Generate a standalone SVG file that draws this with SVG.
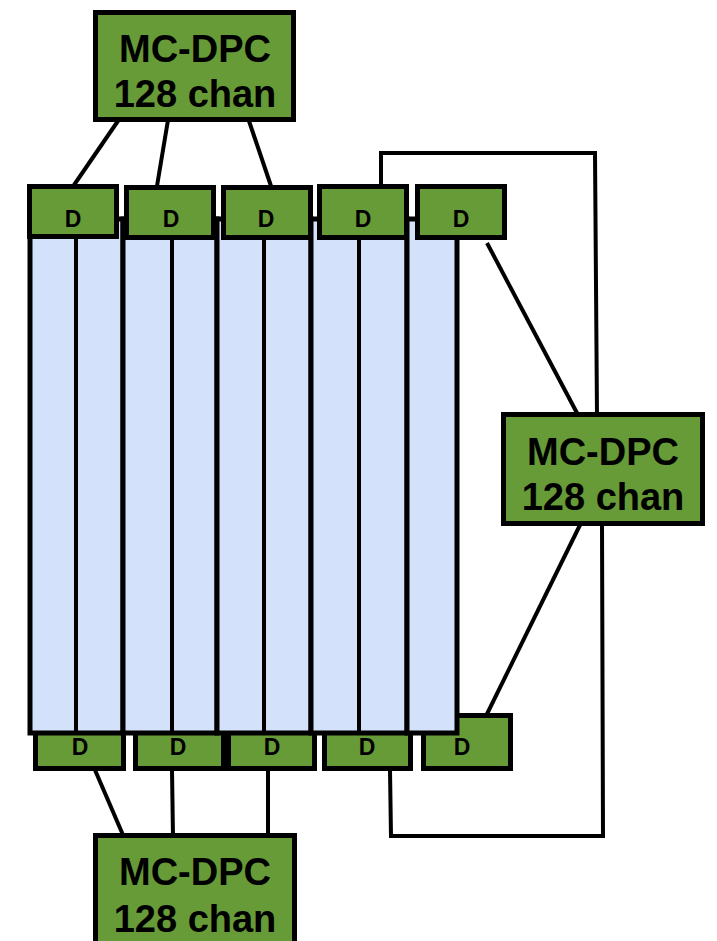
<svg xmlns="http://www.w3.org/2000/svg" width="717" height="941" viewBox="0 0 717 941">
<style>
.box{fill:#679B37;stroke:#000;stroke-width:5}
.col{fill:#D4E1FA;stroke:#000;stroke-width:5}
.div{stroke:#000;stroke-width:4}
.conn{fill:none;stroke:#000;stroke-width:4}
.big{font-family:"Liberation Sans",Arial,sans-serif;font-weight:bold;font-size:38px;text-anchor:middle;fill:#000}
.d{font-family:"Liberation Sans",Arial,sans-serif;font-weight:bold;font-size:23px;text-anchor:middle;fill:#000}
</style>
<rect width="717" height="941" fill="#fff"/>
<g id="connectors">
<line class="conn" x1="120" y1="118" x2="74" y2="185"/>
<line class="conn" x1="168" y1="120" x2="157" y2="186"/>
<line class="conn" x1="249" y1="121" x2="271" y2="186"/>
<polyline class="conn" points="381,186 381,153 595,153 597,416"/>
<line class="conn" x1="487" y1="243" x2="577" y2="413"/>
<line class="conn" x1="580" y1="525" x2="487" y2="714"/>
<polyline class="conn" points="602,525 603,836 391,836 390,770"/>
<line class="conn" x1="95" y1="770" x2="123" y2="835"/>
<line class="conn" x1="172" y1="770" x2="173" y2="837"/>
<line class="conn" x1="268" y1="770" x2="268" y2="835"/>
</g>
<g id="dbot1"><rect class="box" x="35.5" y="715.5" width="88" height="53"/><text class="d" x="80" y="755">D</text></g>
<g id="dbot2"><rect class="box" x="135.5" y="715.5" width="88" height="53"/><text class="d" x="178" y="755">D</text></g>
<g id="dbot3"><rect class="box" x="228.5" y="715.5" width="86" height="53"/><text class="d" x="272" y="755">D</text></g>
<g id="dbot4"><rect class="box" x="324.5" y="715.5" width="86" height="53"/><text class="d" x="367" y="755">D</text></g>
<g id="dbot5"><rect class="box" x="423.5" y="715.5" width="87" height="53"/><text class="d" x="462" y="755">D</text></g>
<g id="columns">
<rect class="col" x="30" y="219" width="93" height="514"/>
<rect class="col" x="123" y="219" width="94" height="514"/>
<rect class="col" x="217" y="219" width="94" height="514"/>
<rect class="col" x="311" y="219" width="96" height="514"/>
<rect class="col" x="407" y="219" width="50" height="514"/>
<line class="div" x1="76" y1="219" x2="76" y2="733"/>
<line class="div" x1="172" y1="219" x2="172" y2="733"/>
<line class="div" x1="264" y1="219" x2="264" y2="733"/>
<line class="div" x1="359" y1="219" x2="359" y2="733"/>
</g>
<g id="dtop1"><rect class="box" x="29.5" y="186.5" width="87" height="50"/><text class="d" x="73" y="227">D</text></g>
<g id="dtop2"><rect class="box" x="126.5" y="187.5" width="87" height="50"/><text class="d" x="171" y="227">D</text></g>
<g id="dtop3"><rect class="box" x="223.5" y="187.5" width="87" height="50"/><text class="d" x="266" y="227">D</text></g>
<g id="dtop4"><rect class="box" x="319.5" y="186.5" width="87" height="51"/><text class="d" x="363" y="227">D</text></g>
<g id="dtop5"><rect class="box" x="417.5" y="186.5" width="87" height="51"/><text class="d" x="461" y="227">D</text></g>
<g id="mc_top"><rect class="box" x="95.5" y="12.5" width="198" height="107"/><text class="big" x="195" y="62">MC-DPC</text><text class="big" x="195" y="107">128 chan</text></g>
<g id="mc_right"><rect class="box" x="503.5" y="414.5" width="199" height="109"/><text class="big" x="603" y="465">MC-DPC</text><text class="big" x="603" y="510">128 chan</text></g>
<g id="mc_bottom"><rect class="box" x="95.5" y="835.5" width="199" height="112"/><text class="big" x="195" y="885">MC-DPC</text><text class="big" x="195" y="932">128 chan</text></g>
</svg>
